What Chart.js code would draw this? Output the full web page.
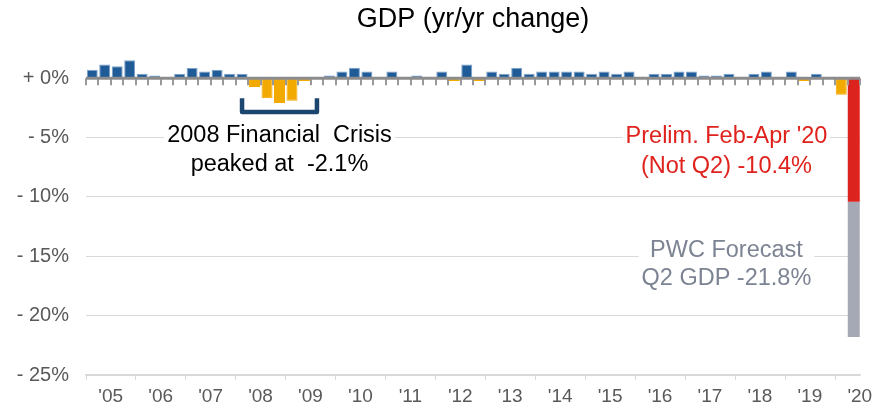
<!DOCTYPE html>
<html>
<head>
<meta charset="utf-8">
<title>GDP (yr/yr change)</title>
<script src="https://cdn.jsdelivr.net/npm/chart.js@4/dist/chart.umd.min.js"></script>
<style>
    html, body { margin: 0; padding: 0; background: #fff; }
</style>
</head>
<body>
<canvas id="gdp" width="874" height="409"></canvas>
<script>
const years = ["'05", "'06", "'07", "'08", "'09", "'10", "'11", "'12", "'13", "'14", "'15", "'16", "'17", "'18", "'19", "'20"]
const quarters = ['Q1', 'Q2', 'Q3', 'Q4']

// quarterly change, 2005 Q1 .. 2020 Q1
const gdpChange = [
    0.7, 1.15, 1.0, 1.5,
    0.37, 0.22, 0.05, 0.37,
    0.85, 0.55, 0.7, 0.37,
    0.37, -0.75, -1.7, -2.1,
    -1.9, -0.25, 0.05, 0.22,
    0.55, 0.87, 0.55, 0.05,
    0.55, 0.05, 0.22, 0.05,
    0.55, -0.25, 1.15, -0.25,
    0.55, 0.37, 0.87, 0.37,
    0.55, 0.55, 0.55, 0.55,
    0.37, 0.55, 0.37, 0.55,
    0.05, 0.37, 0.37, 0.55,
    0.55, 0.22, 0.22, 0.37,
    0.05, 0.37, 0.55, 0.05,
    0.55, -0.25, 0.37, 0.05,
    -1.4,
]
const prelim = -10.4    // Feb-Apr '20
const forecast = -21.8  // Q2 '20
const yTicks = [-25, -20, -15, -10, -5, 0]

const blue = '#1f5b97'
const orange = '#f2a900'
const red = '#dc231e'
const grey = '#a4a9b5'

const labels = []
years.forEach((yr, i) => {
    const n = i === years.length - 1 ? 2 : 4
    for (let q = 0; q < n; q++) labels.push(yr + ' ' + quarters[q])
})
const last = labels.length - 1

const history = labels.map((l, i) => (i < gdpChange.length ? gdpChange[i] : null))
const prelimData = labels.map((l, i) => (i === last ? prelim : null))
const forecastData = labels.map((l, i) => (i === last ? [prelim, forecast] : null))

const crisisLow = Math.min(...gdpChange.slice(12, 20))

const notes = [
    { lines: ['2008 Financial  Crisis', 'peaked at  ' + crisisLow.toFixed(1) + '%'], x: 15, y: [-4.85, -7.3], color: '#000000' },
    { lines: ["Prelim. Feb-Apr '20", '(Not Q2) ' + prelim.toFixed(1) + '%'], x: 50.8, y: [-4.9, -7.4], color: '#e0221c' },
    { lines: ['PWC Forecast', 'Q2 GDP ' + forecast.toFixed(1) + '%'], x: 50.8, y: [-14.5, -16.9], color: '#7c8392' },
]
const bracket = { from: 12, to: 18, top: -1.7, bottom: -2.85 }

// heavy zero line with a tick under every quarter
const zeroAxis = {
    id: 'zeroAxis',
    afterDatasetsDraw(chart) {
        const { ctx, chartArea, scales: { x, y } } = chart
        const y0 = y.getPixelForValue(0)
        const half = (x.getPixelForValue(1) - x.getPixelForValue(0)) / 2
        ctx.save()
        ctx.strokeStyle = '#999999'
        ctx.lineWidth = 2
        ctx.beginPath()
        for (let i = 0; i <= labels.length; i++) {
            const px = Math.round(x.getPixelForValue(i) - half)
            ctx.moveTo(px, y0)
            ctx.lineTo(px, y0 + 7)
        }
        ctx.stroke()
        ctx.strokeStyle = '#8c8c8c'
        ctx.lineWidth = 3
        ctx.beginPath()
        ctx.moveTo(chartArea.left, y0)
        ctx.lineTo(chartArea.right, y0)
        ctx.stroke()
        ctx.restore()
    },
}

const callouts = {
    id: 'callouts',
    afterDatasetsDraw(chart) {
        const { ctx, scales: { x, y } } = chart
        ctx.save()

        ctx.strokeStyle = '#1c4670'
        ctx.lineWidth = 4.5
        ctx.lineJoin = 'round'
        const bl = x.getPixelForValue(bracket.from)
        const br = x.getPixelForValue(bracket.to)
        const bt = y.getPixelForValue(bracket.top)
        const bb = y.getPixelForValue(bracket.bottom)
        ctx.beginPath()
        ctx.moveTo(bl, bt)
        ctx.lineTo(bl, bb)
        ctx.lineTo(br, bb)
        ctx.lineTo(br, bt)
        ctx.stroke()

        ctx.font = '23.5px "Liberation Sans", Arial, sans-serif'
        ctx.textAlign = 'center'
        ctx.textBaseline = 'middle'
        notes.forEach((n) => {
            const cx = x.getPixelForValue(n.x)
            const ys = n.y.map((v) => y.getPixelForValue(v))
            const w = Math.max(...n.lines.map((t) => ctx.measureText(t).width))
            ctx.fillStyle = '#ffffff'
            ctx.fillRect(cx - w / 2 - 3, ys[0] - 14, w + 6, ys[ys.length - 1] - ys[0] + 28)
            ctx.fillStyle = n.color
            n.lines.forEach((t, i) => ctx.fillText(t, cx, ys[i]))
        })
        ctx.restore()
    },
}

Chart.defaults.font.family = '"Liberation Sans", Arial, sans-serif'

new Chart(document.getElementById('gdp').getContext('2d'), {
    type: 'bar',
    data: {
        labels: labels,
        datasets: [
            {
                label: 'GDP',
                data: history,
                backgroundColor: (c) => (c.raw < 0 ? orange : blue),
                borderColor: (c) => (c.raw < 0 ? orange : '#7ea3cc'),
                borderWidth: 1,
                barPercentage: 0.88,
                categoryPercentage: 1,
                grouped: false,
            },
            {
                label: 'Prelim',
                data: prelimData,
                backgroundColor: red,
                barPercentage: 0.96,
                categoryPercentage: 1,
                grouped: false,
            },
            {
                label: 'Forecast',
                data: forecastData,
                backgroundColor: grey,
                barPercentage: 0.96,
                categoryPercentage: 1,
                grouped: false,
            },
        ],
    },
    options: {
        responsive: false,
        animation: false,
        layout: { padding: { left: 0, right: 14, top: 0, bottom: 0 } },
        plugins: {
            legend: { display: false },
            tooltip: { enabled: false },
            title: {
                display: true,
                text: 'GDP (yr/yr change)',
                fullSize: false,
                color: '#000000',
                font: { size: 27, weight: 'normal' },
                padding: { top: 3, bottom: 19 },
            },
        },
        scales: {
            x: {
                grid: {
                    offset: true,
                    drawOnChartArea: false,
                    tickLength: 5,
                    color: (c) => (c.index % 4 === 0 && c.index < labels.length ? '#d9d9d9' : 'rgba(0,0,0,0)'),
                },
                border: { color: '#d9d9d9', width: 1.5 },
                ticks: {
                    autoSkip: false,
                    maxRotation: 0,
                    labelOffset: 6,
                    padding: 5,
                    color: '#595959',
                    font: { size: 19 },
                    callback: (v, i) => (i % 4 === 1 ? years[Math.floor(i / 4)] : ''),
                },
                afterFit: (s) => { s.height = 34 },
            },
            y: {
                min: -25,
                max: 2,
                afterBuildTicks: (s) => { s.ticks = yTicks.map((v) => ({ value: v })) },
                grid: {
                    drawTicks: false,
                    color: (c) => (c.tick && c.tick.value === 0 ? 'rgba(0,0,0,0)' : '#d9d9d9'),
                },
                border: { display: false },
                ticks: {
                    padding: 17,
                    color: '#595959',
                    font: { size: 20 },
                    callback: (v) => (v < 0 ? '- ' + -v : '+ ' + v) + '%',
                },
                afterFit: (s) => { s.width = 86 },
            },
        },
    },
    plugins: [zeroAxis, callouts],
})
</script>
</body>
</html>
